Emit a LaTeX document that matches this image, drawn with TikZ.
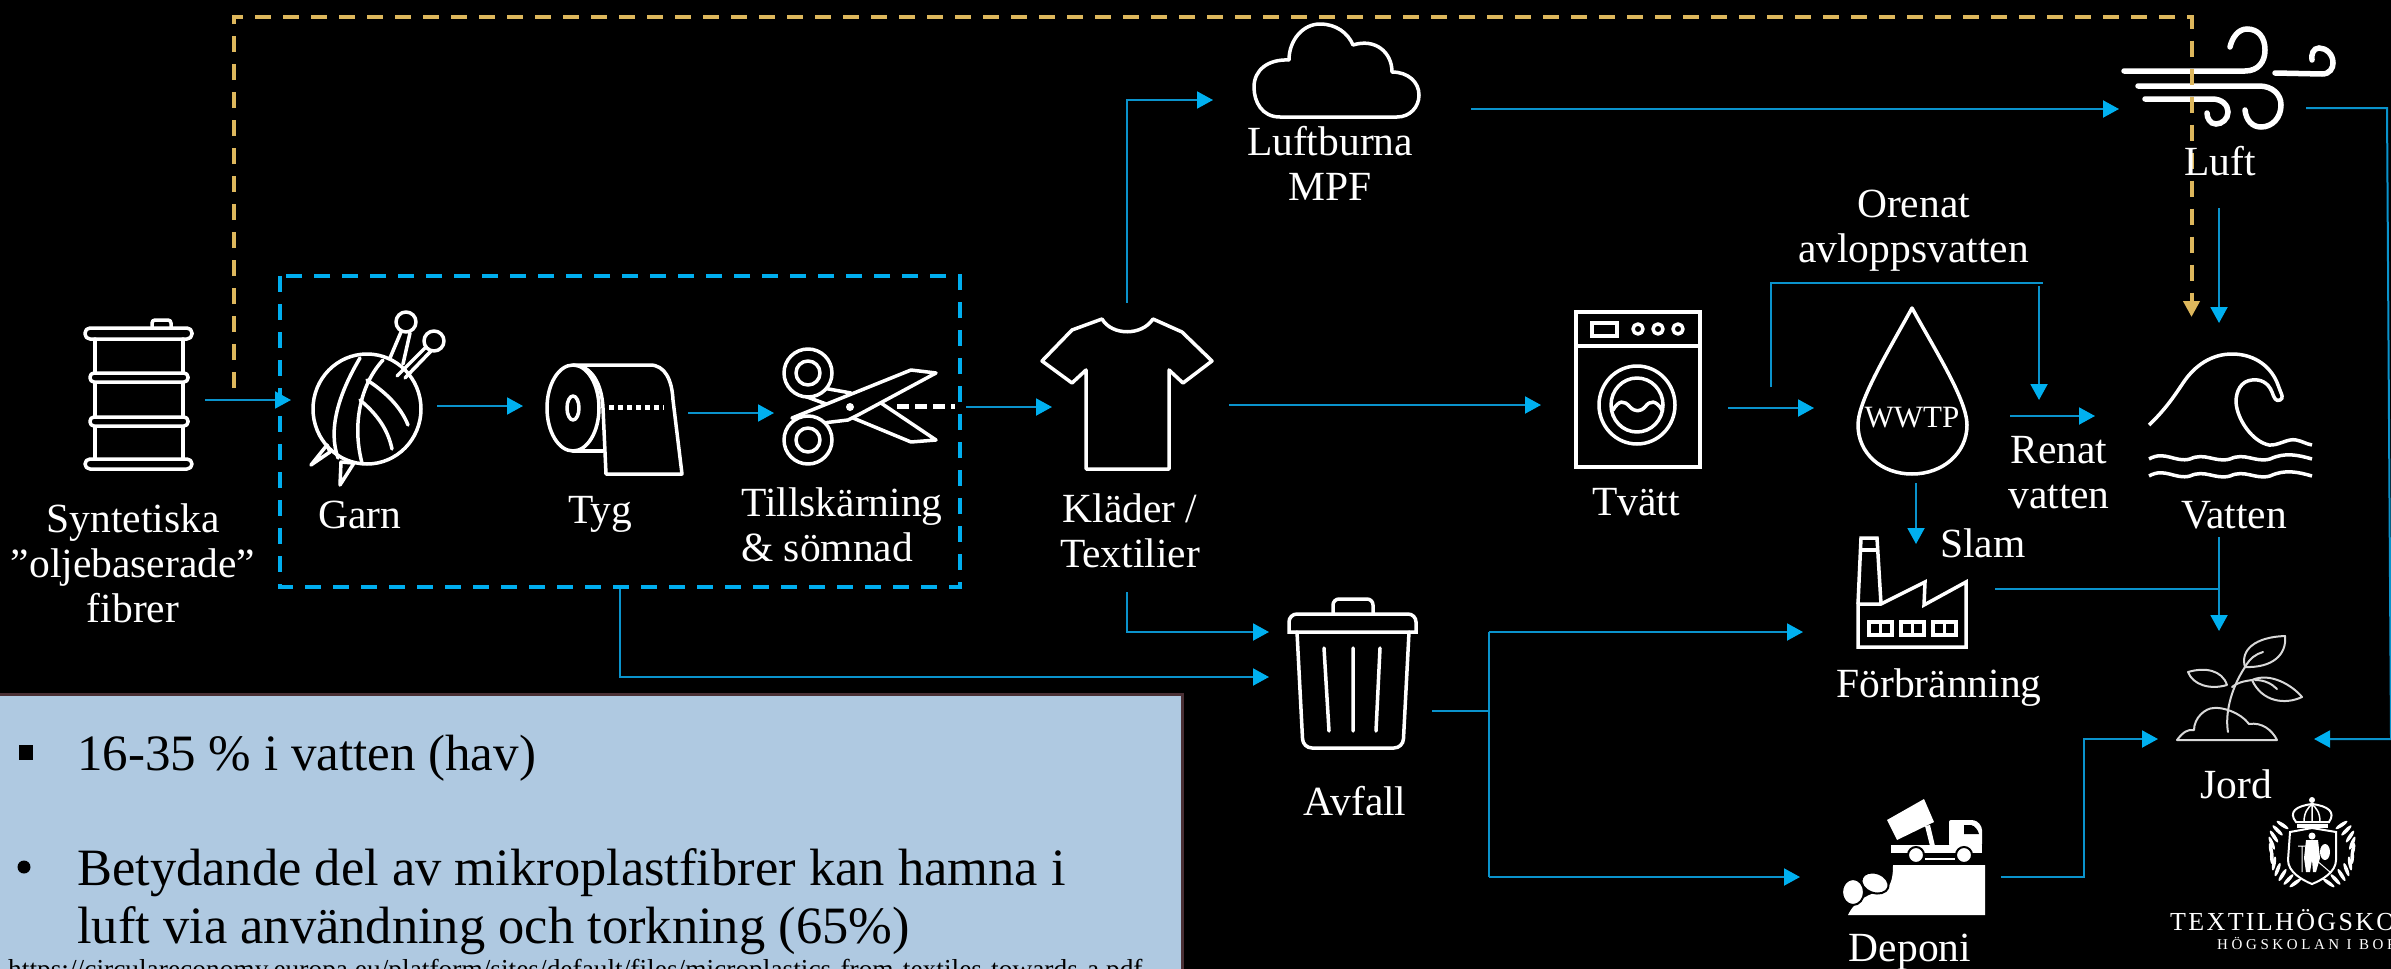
\documentclass[tikz,border=0pt]{standalone}
\usepackage{fontspec}
\setmainfont{Liberation Serif}
\usetikzlibrary{arrows.meta}
\definecolor{linecol}{HTML}{0A93CC}
\definecolor{tipcol}{HTML}{00B0F0}
\definecolor{boxcol}{HTML}{00AEEF}
\definecolor{yel}{HTML}{DDB75C}
\definecolor{panel}{HTML}{AFC9E1}
\definecolor{panelb}{HTML}{4A3035}
\tikzset{
  x=1pt,y=-1pt,
  conn/.style={draw=linecol,line width=2pt,-{Triangle[length=16pt,width=17pt,color=tipcol,fill=tipcol]}},
  connplain/.style={draw=linecol,line width=2pt},
  yelconn/.style={draw=yel,line width=4pt,dash pattern=on 16pt off 12pt,-{Triangle[length=16pt,width=16pt,color=yel,fill=yel]}},
  dashbox/.style={draw=boxcol,line width=4pt,dash pattern=on 16pt off 12pt},
  icon/.style={draw=white,line width=3.5pt,line join=round,line cap=round},
  thinicon/.style={draw=white!85!black,line width=2pt,line join=round,line cap=round},
  lbl/.style={text=white,font=\fontsize{41.5}{45}\selectfont,inner sep=0pt,align=center},
  pan/.style={text=black,font=\fontsize{52.5}{58}\selectfont,inner sep=0pt,anchor=base west},
}
\begin{document}
\begin{tikzpicture}
\useasboundingbox (0,0) rectangle (2391,969);
\clip (0,0) rectangle (2391,969);
\fill[black] (0,0) rectangle (2391,969);

% ---------- barrel
\begin{scope}[icon]
\draw[rounded corners=3pt] (152,328) -- (152,320) -- (171,320) -- (171,328);
\draw (95,339) -- (95,459) (183,339) -- (183,459);
\draw[rounded corners=5pt] (85,328) rectangle (192,339);
\draw[rounded corners=4pt,fill=black] (90,373) rectangle (188,382);
\draw[rounded corners=4pt,fill=black] (90,417) rectangle (188,426);
\draw[rounded corners=5pt] (85,459) rectangle (192,469);
\end{scope}

% ---------- yarn
\begin{scope}[icon]
\draw (367,409) ellipse [x radius=54pt,y radius=55pt];
\draw (360,358) .. controls (338,395) and (328,430) .. (338,458);
\draw (383,360) .. controls (360,385) and (352,425) .. (362,463);
\draw (367,380) .. controls (390,395) and (402,410) .. (408,425);
\draw (360,400) .. controls (378,415) and (388,430) .. (392,449);
\draw (406,322) ellipse [x radius=10pt,y radius=10pt];
\draw (434,341) ellipse [x radius=10pt,y radius=10pt];
\draw (390,358) -- (401,332) (403,364) -- (410,333);
\draw (397,376) -- (425,348) (405,378) -- (431,351);
\draw (311,465) -- (327,445) -- (330,452) -- cycle;
\draw (340,485) -- (341,462) -- (354,463) -- cycle;
\end{scope}

% ---------- fabric roll
\begin{scope}[icon]
\draw (573,408) ellipse [x radius=26pt,y radius=43pt];
\draw (573,408) ellipse [x radius=6pt,y radius=12pt];
\draw (573,365) -- (650,365) .. controls (665,365) and (672,380) .. (673,400) -- (682,474) -- (606,474) -- (603,408) .. controls (602,385) and (592,365) .. (573,365);
\draw (573,451) -- (603,451);
\end{scope}
\draw[white,line width=5pt,dash pattern=on 5pt off 4pt] (609,407) -- (664,407);

% ---------- scissors
\begin{scope}[icon]
\draw (853,418) -- (911,442) -- (936,440) -- (872,397);
\draw (796,393) -- (829,405);
\draw (823,388) -- (851,393);
\draw[fill=black] (792,418) -- (911,370) -- (936,373) -- (858,415) -- (848,420) -- (823,423) -- cycle;
\draw[fill=black] (808,373) circle [radius=24pt];
\draw (808,373) circle [radius=12pt];
\draw[fill=black] (808,440) circle [radius=24pt];
\draw (808,440) circle [radius=12pt];
\end{scope}
\fill[white] (850,407) circle [radius=4pt];
\draw[white,line width=5pt,dash pattern=on 12pt off 6pt] (897,406) -- (955,406);

% ---------- shirt
\draw[icon] (1102,319) .. controls (1112,336) and (1142,336) .. (1153,319) -- (1182,332) -- (1212,361) -- (1183,383) -- (1169,370) -- (1169,469) -- (1086,469) -- (1086,370) -- (1072,383) -- (1042,361) -- (1072,330) -- cycle;

% ---------- cloud
\draw[icon] (1280,117) .. controls (1262,117) and (1254,102) .. (1254,87)
  .. controls (1254,70) and (1268,59) .. (1289,60)
  .. controls (1289,40) and (1303,24) .. (1320,24)
  .. controls (1336,24) and (1348,33) .. (1353,45)
  .. controls (1375,38) and (1392,52) .. (1392,72)
  .. controls (1408,72) and (1419,82) .. (1419,95)
  .. controls (1419,107) and (1410,117) .. (1397,117) -- cycle;

% ---------- washer
\begin{scope}[icon]
\draw[line cap=butt,line join=miter] (1576,312) rectangle (1700,467);
\draw (1576,346) -- (1700,346);
\draw[line join=miter] (1592,323) rectangle (1617,336);
\draw (1638,329) ellipse [x radius=5pt,y radius=5pt];
\draw (1658,329) ellipse [x radius=5pt,y radius=5pt];
\draw (1678,329) ellipse [x radius=5pt,y radius=5pt];
\draw (1637,405) ellipse [x radius=38pt,y radius=39pt];
\draw (1637,405) ellipse [x radius=26pt,y radius=27pt];
\draw (1613,410) .. controls (1619,400) and (1624,400) .. (1630,407) .. controls (1635,412) and (1640,412) .. (1645,407) .. controls (1650,400) and (1656,400) .. (1662,410);
\end{scope}

% ---------- drop
\draw[icon] (1912,308) .. controls (1935,350) and (1967,400) .. (1967,425) .. controls (1967,453) and (1943,474) .. (1912,474) .. controls (1881,474) and (1858,453) .. (1858,425) .. controls (1858,400) and (1889,350) .. (1912,308) -- cycle;

% ---------- wave
\begin{scope}[icon]
\draw[line cap=butt] (2149,425) .. controls (2165,410) and (2175,395) .. (2183,383) .. controls (2195,365) and (2212,354) .. (2232,354) .. controls (2256,354) and (2272,368) .. (2278,385) .. controls (2282,396) and (2284,398) .. (2280,400) .. controls (2276,402) and (2274,398) .. (2272,392) .. controls (2268,382) and (2260,379) .. (2252,380) .. controls (2241,381) and (2236,391) .. (2236,402) .. controls (2237,420) and (2253,442) .. (2269,445) .. controls (2278,446) and (2288,438) .. (2296,440) .. controls (2302,441) and (2306,444) .. (2312,445);
\draw[line cap=butt] (2149,459) .. controls (2165,450) and (2175,463) .. (2190,459) .. controls (2205,452) and (2215,463) .. (2230,459) .. controls (2245,452) and (2255,463) .. (2270,459) .. controls (2285,452) and (2298,455) .. (2312,459);
\draw[line cap=butt] (2149,476) .. controls (2165,467) and (2175,480) .. (2190,476) .. controls (2205,469) and (2215,480) .. (2230,476) .. controls (2245,469) and (2255,480) .. (2270,476) .. controls (2285,469) and (2298,472) .. (2312,476);
\end{scope}

% ---------- wind
\begin{scope}[draw=white,line width=5.5pt,line cap=round]
\draw (2124,71) -- (2245,71) .. controls (2258,71) and (2265,62) .. (2265,50) .. controls (2265,37) and (2258,29) .. (2247,29) .. controls (2238,29) and (2232,38) .. (2230,47);
\draw (2275,73) -- (2322,74) .. controls (2330,74) and (2333,68) .. (2333,63) .. controls (2333,54) and (2326,48) .. (2319,48) .. controls (2313,48) and (2311,55) .. (2312,60);
\draw (2138,86) -- (2259,86) .. controls (2272,86) and (2281,94) .. (2281,105) .. controls (2281,118) and (2272,127) .. (2261,127) .. controls (2252,127) and (2246,120) .. (2245,110);
\draw (2145,99) -- (2212,99) .. controls (2222,99) and (2228,105) .. (2228,112) .. controls (2228,119) and (2222,124) .. (2216,124) .. controls (2210,124) and (2207,118) .. (2207,113);
\end{scope}

% ---------- factory
\begin{scope}[icon,line cap=butt,line join=miter]
\draw (1858,604) -- (1861,538) -- (1877,538) -- (1881,604);
\draw (1860,550) -- (1878,550);
\draw (1858,604) -- (1881,604) -- (1925,582) -- (1924,605) -- (1966,582) -- (1966,647) -- (1858,647) -- cycle;
\foreach \wx in {1869,1901,1933}{
  \draw (\wx,622) rectangle +(23,13);
  \draw (\wx+11.5,622) -- (\wx+11.5,635);
}
\end{scope}

% ---------- bin
\begin{scope}[icon]
\draw[rounded corners=6pt] (1333,614) -- (1333,599) -- (1373,599) -- (1373,614);
\draw[line join=miter] (1289,632) -- (1289,622) arc[start angle=180,end angle=90,radius=8pt] -- (1408,614) arc[start angle=90,end angle=0,radius=8pt] -- (1416,632) -- cycle;
\draw[rounded corners=9pt] (1297,632) -- (1303,748) -- (1403,748) -- (1409,632);
\draw (1324,648) -- (1329,731) (1353,648) -- (1353,731) (1380,648) -- (1376,731);
\end{scope}

% ---------- plant
\begin{scope}[thinicon]
\draw (2177,740) .. controls (2183,732) and (2188,729) .. (2194,730) .. controls (2194,718) and (2205,708) .. (2214,708) .. controls (2222,707) and (2240,712) .. (2249,724) .. controls (2262,722) and (2272,730) .. (2277,740) -- cycle;
\draw (2228,732) .. controls (2225,715) and (2230,690) .. (2245,667);
\draw (2245,667) .. controls (2240,650) and (2255,637) .. (2285,636) .. controls (2287,655) and (2272,668) .. (2245,667);
\draw (2245,667) .. controls (2250,658) and (2256,654) .. (2263,652);
\draw (2227,685) .. controls (2222,670) and (2205,667) .. (2188,672) .. controls (2193,685) and (2210,690) .. (2227,685);
\draw (2232,687) .. controls (2240,681) and (2247,681) .. (2252,680) .. controls (2270,672) and (2292,685) .. (2302,697) .. controls (2285,705) and (2262,702) .. (2252,680);
\draw (2255,680) .. controls (2265,680) and (2272,684) .. (2277,689);
\end{scope}

% ---------- deponi
\fill[white] (1848,915) .. controls (1855,900) and (1870,893) .. (1885,890) .. controls (1892,885) and (1893,875) .. (1893,865) -- (1985,865) -- (1985,915) -- cycle;
\fill[white,draw=black,line width=2pt] (1853,892) ellipse [x radius=11pt,y radius=13pt];
\fill[white,draw=black,line width=2pt,rotate around={-20:(1875,883)}] (1875,883) ellipse [x radius=14pt,y radius=10pt];
\fill[white] (1887,820) -- (1924,799) -- (1934,822) -- (1897,840) -- cycle;
\fill[white] (1925,826) -- (1930,825) -- (1935,846) -- (1930,846) -- cycle;
\fill[white] (1891,845) rectangle (1982,853);
\fill[white,rounded corners=2pt] (1949,820) -- (1972,820) .. controls (1978,821) and (1982,826) .. (1982,832) -- (1982,846) -- (1949,846) -- cycle;
\fill[black] (1964,825) -- (1971,825) .. controls (1975,826) and (1978,830) .. (1979,834) -- (1964,834) -- cycle;
\fill[white,draw=black,line width=2pt] (1916,855) circle [radius=8pt];
\fill[white,draw=black,line width=2pt] (1964,855) circle [radius=8pt];
\fill[white] (1925,858) rectangle (1955,860);

% ---------- crest
\begin{scope}[white]
\foreach \a in {-44,-33,...,72}{
  \fill[rotate around={\a+78:({2312+41*cos(\a)},{850+36*sin(\a)})}] ({2312+41*cos(\a)},{850+36*sin(\a)}) ellipse [x radius=7pt,y radius=1.8pt];
  \fill[rotate around={-\a-78:({2312-41*cos(\a)},{850+36*sin(\a)})}] ({2312-41*cos(\a)},{850+36*sin(\a)}) ellipse [x radius=7pt,y radius=1.8pt];
}
\draw[line width=2pt] (2290,832) -- (2312,828) -- (2336,832) -- (2336,860) .. controls (2336,872) and (2322,880) .. (2312,884) .. controls (2302,880) and (2288,872) .. (2288,860) -- cycle;
% crown
\draw[line width=2pt] (2296,822) .. controls (2288,812) and (2296,806) .. (2312,804) .. controls (2328,806) and (2336,812) .. (2329,822) -- cycle;
\draw[line width=1.5pt] (2304,822) .. controls (2304,812) and (2308,808) .. (2312,804) .. controls (2316,808) and (2320,812) .. (2320,822) (2312,804) -- (2312,822);
\fill (2312,800) circle [radius=3pt];
\fill (2297,824) rectangle (2328,828);
% figure
\fill (2312,836) circle [radius=3.5pt];
\fill (2306,840) -- (2318,840) -- (2320,858) -- (2316,872) -- (2313,872) -- (2312,860) -- (2310,872) -- (2306,872) -- (2304,858) -- cycle;
\fill (2325,852) ellipse [x radius=5pt,y radius=8pt];
\draw[line width=1pt] (2298,846) -- (2306,846) (2302,846) -- (2302,872) (2316,860) -- (2330,872);
\end{scope}
\node[text=white,font=\fontsize{26}{26}\selectfont,inner sep=0pt,anchor=base west] (hogskola) at (2170,930) {\addfontfeature{LetterSpace=9}TEXTILHÖGSKO};
\node[text=white,font=\fontsize{15}{15}\selectfont,inner sep=0pt,anchor=base west] (hogskolan) at (2217,949) {\addfontfeature{LetterSpace=24}HÖGSKOLAN I BOR};

% ---------- connector end points
\coordinate (barrelOut) at (205,400); \coordinate (garnIn) at (291,400);
\coordinate (garnOut) at (437,406); \coordinate (tygIn) at (523,406);
\coordinate (tygOut) at (688,413); \coordinate (saxIn) at (774,413);
\coordinate (saxOut) at (966,407); \coordinate (klaIn) at (1052,407);
\coordinate (klaOut) at (1229,405); \coordinate (tvaIn) at (1541,405);
\coordinate (klaUp) at (1127,303); \coordinate (klaCorner) at (1127,100); \coordinate (cloudIn) at (1213,100);
\coordinate (cloudOut) at (1471,109); \coordinate (luftIn) at (2119,109);
\coordinate (klaDown) at (1127,592); \coordinate (klaC2) at (1127,632); \coordinate (binIn1) at (1269,632);
\coordinate (boxOut) at (620,589); \coordinate (boxC) at (620,677); \coordinate (binIn2) at (1269,677);
\coordinate (tvaOut) at (1728,408); \coordinate (wwtpIn) at (1814,408);
\coordinate (orA) at (1771,387); \coordinate (orB) at (1771,283); \coordinate (orC) at (2043,283);
\coordinate (orD) at (2039,286); \coordinate (orE) at (2039,400);
\coordinate (renOut) at (2010,416); \coordinate (renIn) at (2095,416);
\coordinate (luftOut) at (2219,208); \coordinate (vatIn) at (2219,323);
\coordinate (slamA) at (1916,483); \coordinate (slamB) at (1916,544);
\coordinate (binOut) at (1432,711); \coordinate (binJ) at (1489,711);
\coordinate (tT) at (1489,632); \coordinate (tB) at (1489,877);
\coordinate (forIn) at (1803,632); \coordinate (depIn) at (1800,877);
\coordinate (forOut) at (1995,589); \coordinate (vatJ) at (2219,589);
\coordinate (vatOut) at (2219,537); \coordinate (jordTop) at (2219,631);
\coordinate (depOut) at (2001,877); \coordinate (depC) at (2084,877); \coordinate (depC2) at (2084,739); \coordinate (jordL) at (2158,739);
\coordinate (windOut) at (2306,108); \coordinate (windC) at (2387,108); \coordinate (windC2) at (2391,739); \coordinate (jordR) at (2314,739);
\coordinate (yA) at (234,388); \coordinate (yB) at (234,17); \coordinate (yC) at (2191.5,17); \coordinate (yD) at (2191.5,317);

% ---------- process box
\draw[dashbox] (280,276) rectangle (960,587);

% ---------- connectors
\draw[yelconn] (yA) -- (yB) -- (yC) -- (yD);
\draw[conn] (barrelOut) -- (garnIn);
\draw[conn] (garnOut) -- (tygIn);
\draw[conn] (tygOut) -- (saxIn);
\draw[conn] (saxOut) -- (klaIn);
\draw[conn] (klaOut) -- (tvaIn);
\draw[conn] (klaUp) -- (klaCorner) -- (cloudIn);
\draw[conn] (cloudOut) -- (luftIn);
\draw[conn] (klaDown) -- (klaC2) -- (binIn1);
\draw[conn] (boxOut) -- (boxC) -- (binIn2);
\draw[conn] (tvaOut) -- (wwtpIn);
\draw[connplain] (orA) -- (orB) -- (orC);
\draw[conn] (orD) -- (orE);
\draw[conn] (renOut) -- (renIn);
\draw[conn] (luftOut) -- (vatIn);
\draw[conn] (slamA) -- (slamB);
\draw[connplain] (binOut) -- (binJ);
\draw[connplain] (tT) -- (tB);
\draw[conn] (tT) -- (forIn);
\draw[conn] (tB) -- (depIn);
\draw[connplain] (forOut) -- (vatJ);
\draw[conn] (vatOut) -- (jordTop);
\draw[conn] (depOut) -- (depC) -- (depC2) -- (jordL);
\draw[conn] (windOut) -- (windC) -- (windC2) -- (jordR);

% ---------- labels
\node[lbl] (syn) at (133,563) {Syntetiska\\”oljebaserade”\\fibrer};
\node[lbl,anchor=base] (garn) at (360,528) {Garn};
\node[lbl,anchor=base] (tyg) at (600,523) {Tyg};
\node[lbl,anchor=north west,align=left] (till) at (741,487) {Tillskärning\\\& sömnad};
\node[lbl] (kla) at (1130,531) {Kläder /\\Textilier};
\node[lbl,anchor=base] (tva) at (1636,515) {Tvätt};
\node[lbl] (mpf) at (1330,163) {Luftburna\\MPF};
\node[lbl,anchor=base] (luft) at (2220,175) {Luft};
\node[lbl] (orenat) at (1913.5,231) {Orenat\\avloppsvatten};
\node[text=white,font=\fontsize{31}{31}\selectfont,inner sep=0pt,anchor=base] (wwtp) at (1912,427) {WWTP};
\node[lbl] (renat) at (2059,473) {Renat\\vatten};
\node[lbl,anchor=base] (vatten) at (2234,528) {Vatten};
\node[lbl,anchor=base] (slam) at (1983,557) {Slam};
\node[lbl,anchor=base] (forb) at (1939,697) {Förbränning};
\node[lbl,anchor=base] (jord) at (2236.5,798) {Jord};
\node[lbl,anchor=base] (deponi) at (1910,961) {Deponi};
\node[lbl,anchor=base] (avfall) at (1355,815) {Avfall};

% ---------- panel
\draw[fill=panel,draw=panelb,line width=3pt] (-5,694) rectangle (1182,980);
\fill[black] (19,745) rectangle (33,760);
\fill[black] (24,867) circle [radius=6.5pt];
\node[pan,font=\fontsize{51}{58}\selectfont] (p1) at (77,770) {16-35 \% i vatten (hav)};
\node[pan] (p2) at (77,885) {Betydande del av mikroplastfibrer kan hamna i};
\node[pan] (p3) at (77,943) {luft via användning och torkning (65\%)};
\node[text=black,font=\fontsize{27.4}{27.4}\selectfont,inner sep=0pt,anchor=base west] (url) at (8,978) {https://circulareconomy.europa.eu/platform/sites/default/files/microplastics-from-textiles-towards-a.pdf};
\end{tikzpicture}
\end{document}
